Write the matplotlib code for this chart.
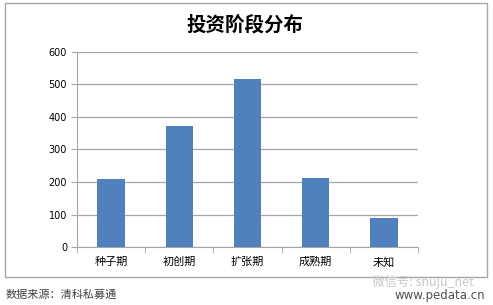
import numpy as np
import matplotlib.pyplot as plt
from matplotlib.patches import Rectangle

plt.rcParams['font.family'] = ['Noto Sans CJK SC', 'DejaVu Sans']

stages = ["种子期", "初创期", "扩张期", "成熟期", "未知"]
counts = [208, 372, 516, 211, 89]
yticks = [0, 100, 200, 300, 400, 500, 600]

fig = plt.figure(figsize=(4.93, 3.05), dpi=100)

# outer chart frame
fig.patches.append(Rectangle((0.0101, 0.092), 0.978, 0.898, transform=fig.transFigure,
                             fill=False, edgecolor="#a6a6a6", linewidth=1.0))

ax = fig.add_axes([0.156, 0.19, 0.692, 0.64])
x = np.arange(len(stages))
ax.bar(x, counts, width=0.4, color="#4F81BD", zorder=3)

ax.set_xlim(-0.5, len(stages) - 0.5)
ax.set_ylim(0, 600)
ax.set_yticks(yticks)
ax.set_yticklabels([str(v) for v in yticks], fontsize=7, family="DejaVu Sans")
ax.yaxis.grid(True, color="#a6a6a6", linewidth=0.9, zorder=0)
ax.set_xticks(x)
ax.set_xticklabels(stages, fontsize=8)
ax.set_xticks(np.arange(len(stages) + 1) - 0.5, minor=True)
ax.tick_params(axis="x", which="major", length=0, pad=7)
ax.tick_params(axis="x", which="minor", length=4, color="#a6a6a6")
ax.tick_params(axis="y", length=4, color="#a6a6a6", pad=3)
for s in ["top", "right"]:
    ax.spines[s].set_visible(False)
for s in ["left", "bottom"]:
    ax.spines[s].set_color("#a6a6a6")

fig.text(0.497, 0.918, "投资阶段分布", ha="center", va="center", fontsize=14, fontweight="bold")
fig.text(0.012, 0.035, "数据来源：清科私募通", ha="left", va="center", fontsize=8, color="#404040")
fig.text(0.96, 0.075, "微信号: shuju_net", ha="right", va="center", fontsize=9, color="#c8c8c8")
fig.text(0.985, 0.03, "www.pedata.cn", ha="right", va="center", fontsize=8.5, color="#505050",
         family="DejaVu Sans")

fig.savefig("out.png", dpi=100)
